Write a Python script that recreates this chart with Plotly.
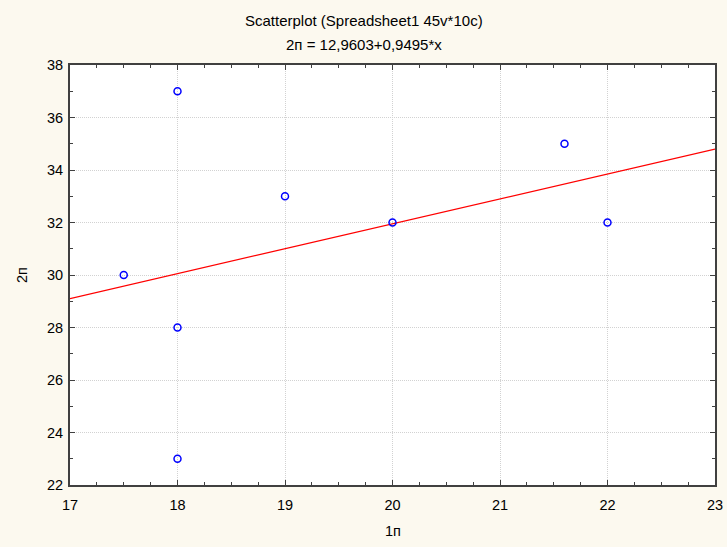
import numpy as np
import plotly.graph_objects as go

# observations
x_vals = [18, 17.5, 18, 18, 19, 20, 21.6, 22]
y_vals = [37, 30, 28, 23, 33, 32, 35, 32]

# fitted line: 2п = 12,9603 + 0,9495*x
intercept = 12.9603
slope = 0.9495
x_range = [17, 23]
y_range = [22, 38]

title_lines = ["Scatterplot (Spreadsheet1 45v*10c)", "2п = 12,9603+0,9495*x"]
x_title = "1п"
y_title = "2п"

line_x = np.array(x_range, dtype=float)
line_y = intercept + slope * line_x

FONT = "Liberation Sans, Arial, sans-serif"
AXIS_COLOR = "#404040"
GRID_COLOR = "#D2D2D2"
W, H = 727, 547
M = dict(l=70, r=12, t=65, b=62)

fig = go.Figure()
fig.add_trace(go.Scatter(
    x=line_x, y=line_y, mode="lines",
    line=dict(color="#FF0000", width=1.2),
    hoverinfo="skip", showlegend=False,
))
fig.add_trace(go.Scatter(
    x=x_vals, y=y_vals, mode="markers",
    marker=dict(symbol="circle-open", size=7, color="#0000FF",
                line=dict(width=1.5, color="#0000FF")),
    showlegend=False,
))

fig.update_layout(
    width=W, height=H,
    margin=M,
    paper_bgcolor="#FCF9EF",
    plot_bgcolor="#FFFFFF",
    font=dict(family=FONT, size=14.5, color="#000000"),
)

plot_h = H - M["t"] - M["b"]
plot_w = W - M["l"] - M["r"]

def py(px):
    return (H - M["b"] - px) / plot_h

def px_(x):
    return (x - M["l"]) / plot_w

# two-line heading, centred on the page
for text, ypix in zip(title_lines, [21, 45]):
    fig.add_annotation(text=text, x=px_(W / 2), y=py(ypix), xref="paper", yref="paper",
                       showarrow=False, font=dict(size=15, family=FONT),
                       xanchor="center", yanchor="middle")

# axis titles
fig.add_annotation(text=x_title, x=0.5, y=py(531), xref="paper", yref="paper",
                   showarrow=False, font=dict(size=14.5, family=FONT),
                   xanchor="center", yanchor="middle")
fig.add_annotation(text=y_title, x=px_(22), y=0.5, xref="paper", yref="paper",
                   showarrow=False, font=dict(size=14.5, family=FONT), textangle=-90,
                   xanchor="center", yanchor="middle")

common = dict(
    showline=True, linecolor=AXIS_COLOR, linewidth=2, mirror="ticks",
    ticks="inside", ticklen=5, tickcolor=AXIS_COLOR, tickwidth=1,
    showgrid=True, gridcolor=GRID_COLOR, griddash="1px,1px", gridwidth=1,
    zeroline=False, automargin=False,
    tickfont=dict(size=14.5, family=FONT),
)
fig.update_xaxes(
    range=x_range, dtick=1, tick0=17, ticklabelstandoff=6,
    minor=dict(dtick=0.25, ticks="inside", ticklen=3, tickcolor=AXIS_COLOR, showgrid=False),
    **common,
)
fig.update_yaxes(
    range=y_range, dtick=2, tick0=22, ticklabelstandoff=2,
    minor=dict(dtick=1, ticks="inside", ticklen=3, tickcolor=AXIS_COLOR, showgrid=False),
    **common,
)

fig.write_html("out.html")
